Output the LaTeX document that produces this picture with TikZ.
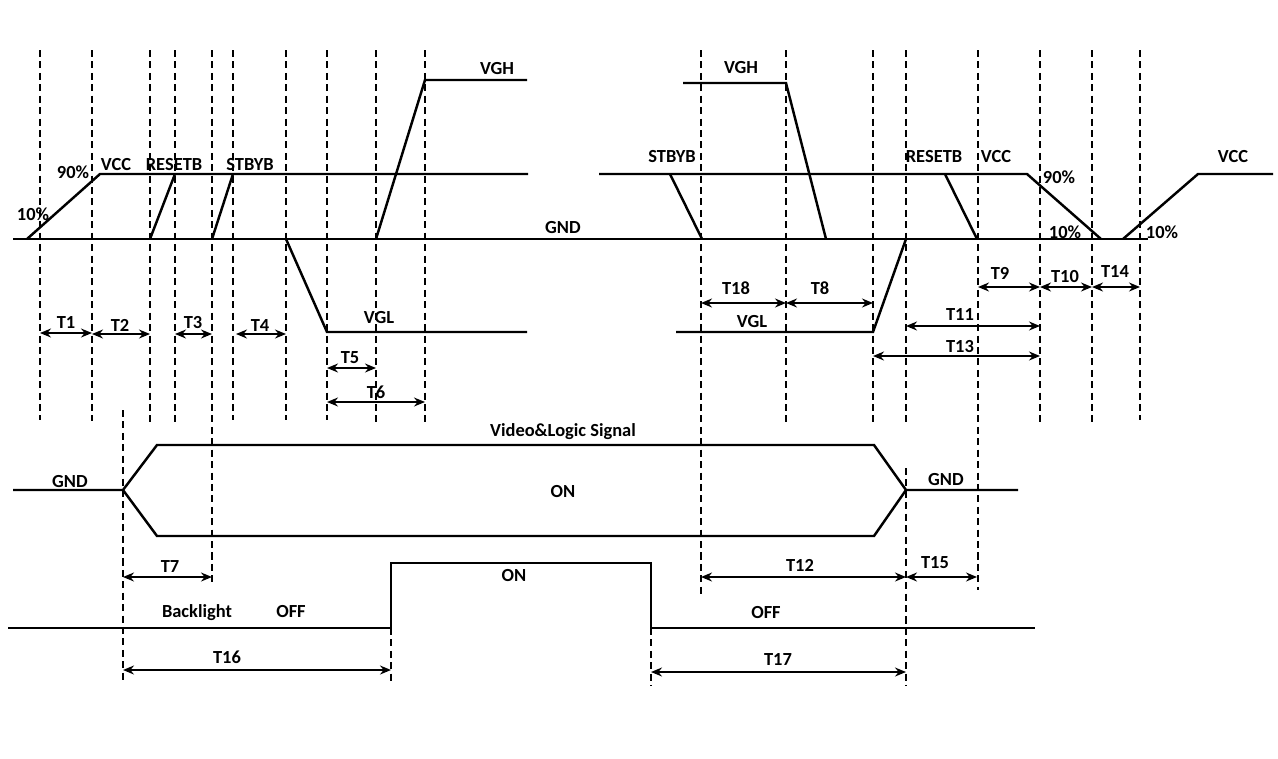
\documentclass[tikz,border=0pt]{standalone}
\usepackage{fontspec}
\setmainfont{Carlito}
\usetikzlibrary{arrows.meta}

\begin{document}
\begin{tikzpicture}[x=0.02cm, y=-0.02cm,
      sig/.style={line width=1.4pt, line join=miter},
      guide/.style={line width=0.6pt, dash pattern=on 4pt off 2.5pt},
      dim/.style={line width=0.9pt, {Stealth[length=2.2mm,width=1.8mm]}-{Stealth[length=2.2mm,width=1.8mm]}},
      lbl/.style={font=\bfseries\fontsize{10.5}{12}\selectfont, inner sep=0pt}]
  \useasboundingbox (0,0) rectangle (1278,758);

  % dashed timing guides
  \foreach \x/\a/\b in {40/50/420, 92/50/421, 150/50/425, 175/50/425, 212/50/585,
                        233/50/420, 286/50/420, 327/50/420, 376/50/424, 425/50/424,
                        701/50/595, 786/50/423, 873/50/422, 906/50/423, 906/468/686,
                        978/50/590, 1040/50/423, 1092/50/423, 1140/50/420,
                        123/410/684, 391/628/682, 651/628/686}
    \draw[guide] (\x,\a) -- (\x,\b);

  % power-on sequence
  \draw[sig] (13,239) -- (1148,239);
  \draw[sig] (27,239) -- (100,174) -- (528,174);
  \draw[sig] (150,239) -- (175,174);
  \draw[sig] (212,239) -- (233,174);
  \draw[sig] (286,239) -- (327,332) -- (527,332);
  \draw[sig] (376,239) -- (425,80) -- (527,80);

  % power-off sequence
  \draw[sig] (599,174) -- (1027,174) -- (1101,239);
  \draw[sig] (670,174) -- (702,239);
  \draw[sig] (683,83) -- (786,83) -- (826,239);
  \draw[sig] (676,332) -- (873,332) -- (906,239);
  \draw[sig] (945,174) -- (977,239);
  \draw[sig] (1123,239) -- (1198,174) -- (1273,174);

  % video & logic signal
  \draw[sig] (13,490) -- (123,490) -- (157,445) -- (874,445) -- (906,490) -- (1018,490);
  \draw[sig] (123,490) -- (157,536) -- (874,536) -- (906,490);

  % backlight
  \draw[sig] (8,628) -- (391,628) -- (391,563) -- (651,563) -- (651,628) -- (1035,628);

  % level labels
  \node[lbl] (pct10a) at (33,214) {10\%};
  \node[lbl] (pct90a) at (73,172) {90\%};
  \node[lbl] (vcca) at (116,165) {VCC};
  \node[lbl] (rsta) at (174,165) {RESETB};
  \node[lbl] (stba) at (250,165) {STBYB};
  \node[lbl] (vgha) at (497,69) {VGH};
  \node[lbl] (gnda) at (563,228) {GND};
  \node[lbl] (vgla) at (379,318) {VGL};
  \node[lbl] (stbb) at (672,157) {STBYB};
  \node[lbl] (vghb) at (741,68) {VGH};
  \node[lbl] (rstb) at (934,157) {RESETB};
  \node[lbl] (vccb) at (996,157) {VCC};
  \node[lbl] (pct90b) at (1059,177) {90\%};
  \node[lbl] (pct10b) at (1065,232) {10\%};
  \node[lbl] (pct10c) at (1162,232) {10\%};
  \node[lbl] (vccc) at (1233,157) {VCC};
  \node[lbl] (vglb) at (752,322) {VGL};
  \node[lbl] (video) at (563,432) {Video\&Logic Signal};
  \node[lbl] (vidon) at (563,492) {ON};
  \node[lbl] (gndb) at (70,482) {GND};
  \node[lbl] (gndc) at (946,480) {GND};
  \node[lbl] (blight) at (197,613) {Backlight};
  \node[lbl] (bloffa) at (291,612) {OFF};
  \node[lbl] (blon) at (514,576) {ON};
  \node[lbl] (bloffb) at (766,613) {OFF};

  % timing parameters
  \foreach \n/\a/\b/\y/\lx/\ly in {1/40/92/333/66/323, 2/92/150/334/120/325, 3/175/212/334/193/323,
        4/236/286/334/260/326, 5/327/376/368/350/358, 6/327/425/402/376/392,
        18/701/786/303/736/288, 8/786/873/303/820/288, 9/978/1040/287/1000/273,
        10/1040/1092/287/1065/277, 14/1092/1140/287/1115/272, 11/906/1040/326/960/315,
        13/873/1040/356/960/347, 7/123/212/577/170/567, 12/701/906/577/800/565,
        15/906/977/577/935/563, 16/123/391/670/227/657, 17/651/906/672/778/659}
  {
    \draw[dim] (\a,\y) -- (\b,\y);
    \node[lbl] (T\n) at (\lx,\ly) {T\n};
  }
\end{tikzpicture}
\end{document}
